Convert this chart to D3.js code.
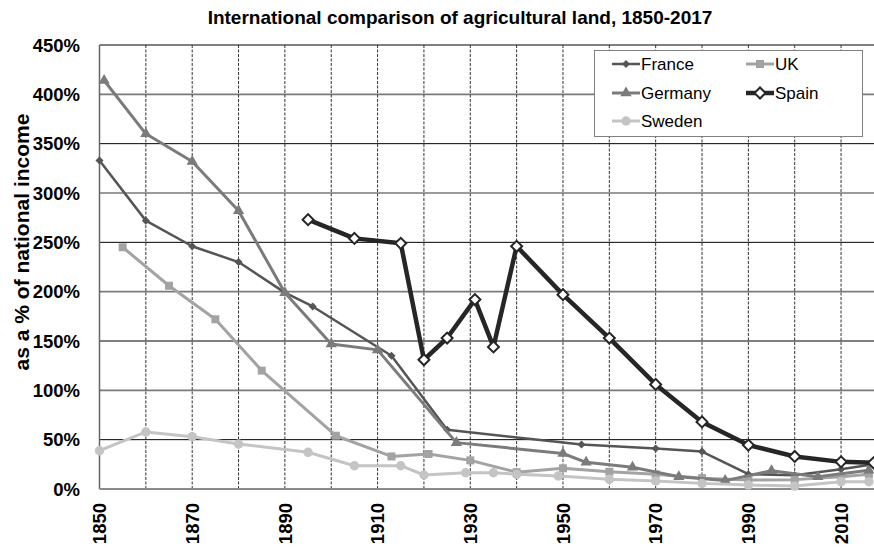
<!DOCTYPE html>
<html>
<head>
<meta charset="utf-8">
<script src="https://cdn.jsdelivr.net/npm/d3@7"></script>
<style>
  html, body { margin: 0; padding: 0; background: #fff; }
  svg { display: block; font-family: "Liberation Sans", Arial, sans-serif; }
</style>
</head>
<body>
<svg id="chart" width="874" height="550"></svg>
<script>
// ---- Data ----
const titleText = "International comparison of agricultural land, 1850-2017";
const yAxisTitle = "as a % of national income";
const yTicks = [0, 50, 100, 150, 200, 250, 300, 350, 400, 450];
const xLabelTicks = [1850, 1870, 1890, 1910, 1930, 1950, 1970, 1990, 2010];
const xGridTicks = [1860, 1870, 1880, 1890, 1900, 1910, 1920, 1930, 1940, 1950, 1960, 1970, 1980, 1990, 2000, 2010];

const franceYears  = [1850, 1860, 1870, 1880, 1890, 1896, 1913, 1925, 1954, 1970, 1980, 1990, 2000, 2010, 2017];
const franceValues = [333, 272, 246, 230, 199, 185, 135, 60, 45, 41, 38, 15, 14, 20, 25];

const ukYears  = [1855, 1865, 1875, 1885, 1901, 1913, 1921, 1930, 1940, 1950, 1960, 1970, 1980, 1990, 2000, 2010, 2016];
const ukValues = [245, 206, 172, 120, 54, 33, 35.5, 29, 17, 21, 17.5, 15, 11, 9, 9.5, 12.5, 15];

const germanyYears  = [1851, 1860, 1870, 1880, 1890, 1900, 1910, 1927, 1950, 1955, 1965, 1975, 1985, 1995, 2005, 2016];
const germanyValues = [414, 360, 332, 282, 199, 147, 141, 47, 36, 27, 22, 12.5, 8.5, 18.5, 12.5, 19];

const spainYears  = [1895, 1905, 1915, 1920, 1925, 1931, 1935, 1940, 1950, 1960, 1970, 1980, 1990, 2000, 2010, 2017];
const spainValues = [273, 254, 249, 131, 153, 192, 144, 246, 197, 153, 106, 68, 44.5, 33, 27.5, 26.5];

const swedenYears  = [1850, 1860, 1870, 1880, 1895, 1905, 1915, 1920, 1929, 1935, 1940, 1949, 1960, 1970, 1980, 1990, 2000, 2010, 2016];
const swedenValues = [38.8, 57.8, 53, 45.6, 37.2, 23.6, 23.6, 14.2, 16.5, 16.5, 14.9, 13.2, 9.8, 8.1, 5.7, 4, 3, 7.4, 7.4];

const seriesNames = ["France", "UK", "Germany", "Spain", "Sweden"];

// ---- Styles ----
const styles = {
  France:  { color: "#555555", width: 2.5, symbol: d3.symbolSquare, size: 22, rotate: 45, fill: "#555555", stroke: "#555555", sw: 1 },
  UK:      { color: "#a3a3a3", width: 3,   symbol: d3.symbolSquare, size: 64, rotate: 0,  fill: "#a3a3a3", stroke: "#a3a3a3", sw: 0 },
  Germany: { color: "#7b7b7b", width: 3,   symbol: d3.symbolTriangle, size: 55, rotate: 0, fill: "#7b7b7b", stroke: "#7b7b7b", sw: 0 },
  Spain:   { color: "#262626", width: 4.5, symbol: d3.symbolSquare, size: 60, rotate: 45, fill: "#ffffff", stroke: "#262626", sw: 2 },
  Sweden:  { color: "#c4c4c4", width: 3,   symbol: d3.symbolCircle, size: 70, rotate: 0,  fill: "#c4c4c4", stroke: "#c4c4c4", sw: 0 }
};

const seriesData = {
  France:  franceYears.map((yr, i) => ({ year: yr, value: franceValues[i] })),
  UK:      ukYears.map((yr, i) => ({ year: yr, value: ukValues[i] })),
  Germany: germanyYears.map((yr, i) => ({ year: yr, value: germanyValues[i] })),
  Spain:   spainYears.map((yr, i) => ({ year: yr, value: spainValues[i] })),
  Sweden:  swedenYears.map((yr, i) => ({ year: yr, value: swedenValues[i] }))
};

// ---- Layout ----
const svg = d3.select("#chart");
const plotLeft = 99.5, plotRight = 873.5, plotTop = 45, plotBottom = 489;

const x = d3.scaleLinear().domain([1850, 2017]).range([plotLeft, plotRight]);
const y = d3.scaleLinear().domain([0, 450]).range([plotBottom, plotTop]);

// Title
svg.append("text")
  .attr("x", 460).attr("y", 24)
  .attr("text-anchor", "middle")
  .attr("font-size", 19).attr("font-weight", "bold")
  .attr("fill", "#000")
  .text(titleText);

// Horizontal gridlines
svg.append("g").selectAll("line").data(yTicks.filter(d => d > 0)).join("line")
  .attr("x1", plotLeft).attr("x2", 874)
  .attr("y1", d => y(d)).attr("y2", d => y(d))
  .attr("stroke", d => (d % 100 === 0) ? "#7a7a7a" : "#000")
  .attr("stroke-width", d => (d % 100 === 0) ? 1.6 : 1);

// Vertical dashed gridlines
svg.append("g").selectAll("line").data(xGridTicks).join("line")
  .attr("x1", d => x(d)).attr("x2", d => x(d))
  .attr("y1", plotTop).attr("y2", plotBottom)
  .attr("stroke", "#333")
  .attr("stroke-width", 1)
  .attr("stroke-dasharray", "3,1.5");

// Axes lines
svg.append("line")
  .attr("x1", plotLeft).attr("x2", plotLeft).attr("y1", plotTop).attr("y2", plotBottom)
  .attr("stroke", "#666").attr("stroke-width", 1.5);
svg.append("line")
  .attr("x1", plotLeft).attr("x2", 874).attr("y1", plotBottom).attr("y2", plotBottom)
  .attr("stroke", "#8a8a8a").attr("stroke-width", 2);

// Y tick labels
svg.append("g").selectAll("text").data(yTicks).join("text")
  .attr("x", 80).attr("y", d => y(d))
  .attr("dy", "0.36em")
  .attr("text-anchor", "end")
  .attr("font-size", 18.5).attr("font-weight", "bold")
  .attr("fill", "#000")
  .text(d => d + "%");

// X tick labels (rotated)
svg.append("g").selectAll("text").data(xLabelTicks).join("text")
  .attr("transform", d => `translate(${x(d)},503) rotate(-90)`)
  .attr("dy", "0.36em")
  .attr("text-anchor", "end")
  .attr("font-size", 18.5).attr("font-weight", "bold")
  .attr("fill", "#000")
  .text(d => d);

// Y axis title
svg.append("text")
  .attr("transform", "translate(29,242) rotate(-90)")
  .attr("text-anchor", "middle")
  .attr("font-size", 20).attr("font-weight", "bold")
  .attr("textLength", 257).attr("lengthAdjust", "spacingAndGlyphs")
  .attr("fill", "#000")
  .text(yAxisTitle);

// Series
const line = d3.line().x(d => x(d.year)).y(d => y(d.value));
seriesNames.forEach(name => {
  const s = styles[name];
  const g = svg.append("g");
  g.append("path")
    .datum(seriesData[name])
    .attr("d", line)
    .attr("fill", "none")
    .attr("stroke", s.color)
    .attr("stroke-width", s.width)
    .attr("stroke-linejoin", "round");
  g.selectAll("path.m").data(seriesData[name]).join("path")
    .attr("class", "m")
    .attr("d", d3.symbol().type(s.symbol).size(s.size))
    .attr("transform", d => `translate(${x(d.year)},${y(d.value)}) rotate(${s.rotate})`)
    .attr("fill", s.fill)
    .attr("stroke", s.stroke)
    .attr("stroke-width", s.sw);
});

// Legend
const lg = svg.append("g");
lg.append("rect")
  .attr("x", 594.5).attr("y", 50.5).attr("width", 268).attr("height", 86)
  .attr("fill", "#fff").attr("stroke", "#808080").attr("stroke-width", 1);

const legendPos = {
  France:  { lx: 612, ly: 64 },
  UK:      { lx: 746, ly: 64 },
  Germany: { lx: 612, ly: 93 },
  Spain:   { lx: 746, ly: 93 },
  Sweden:  { lx: 612, ly: 121 }
};
seriesNames.forEach(name => {
  const s = styles[name];
  const p = legendPos[name];
  lg.append("line")
    .attr("x1", p.lx).attr("x2", p.lx + 28)
    .attr("y1", p.ly).attr("y2", p.ly)
    .attr("stroke", s.color).attr("stroke-width", s.width);
  lg.append("path")
    .attr("d", d3.symbol().type(s.symbol).size(s.size)())
    .attr("transform", `translate(${p.lx + 14},${p.ly}) rotate(${s.rotate})`)
    .attr("fill", s.fill).attr("stroke", s.stroke).attr("stroke-width", s.sw);
  lg.append("text")
    .attr("x", p.lx + 29).attr("y", p.ly)
    .attr("dy", "0.36em")
    .attr("font-size", 17)
    .attr("fill", "#000")
    .text(name);
});
</script>
</body>
</html>
